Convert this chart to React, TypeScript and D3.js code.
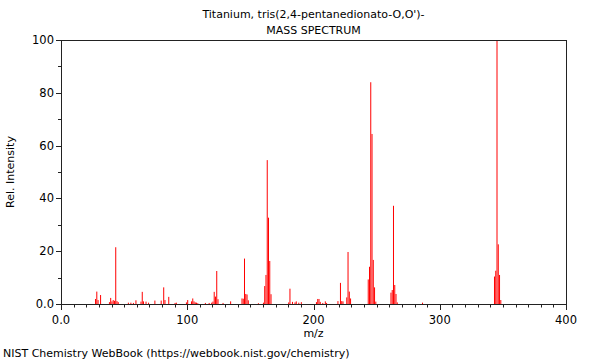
import React from "react";
import * as d3 from "d3";

const titleLines = ["Titanium, tris(2,4-pentanedionato-O,O')-", "MASS SPECTRUM"];
const xLabel = "m/z";
const yLabel = "Rel. Intensity";
const footer = "NIST Chemistry WebBook (https://webbook.nist.gov/chemistry)";

const mzValues = [27,28,29,31,38,39,40,41,42,43,44,45,53,55,57,59,63,64,65,67,69,74,79,81,82,85,90,91,99,100,103,104,105,106,107,108,114,117,119,120,121,122,123,124,128,134,143,144,145,146,147,148,156,160,161,162,163,164,165,166,180,181,183,185,186,188,190,202,203,204,205,207,209,210,219,221,222,223,226,227,228,229,243,244,245,246,247,248,249,261,262,263,264,265,266,286,343,344,345,346,347,348];
const intensities = [1.9,4.7,1.5,3.4,0.7,2.3,1.0,1.5,1.2,21.5,1.1,0.7,0.5,0.5,0.4,1.4,0.9,4.6,1.0,0.9,0.5,1.3,1.3,6.3,1.5,2.7,0.4,0.5,0.6,1.5,1.0,2.1,1.0,0.6,0.5,0.3,0.4,0.4,0.5,0.9,4.6,2.8,12.5,1.8,0.4,1.0,2.1,2.0,17.2,3.8,3.6,1.4,0.3,0.5,6.8,11,54.5,32.7,16.3,3.7,0.6,5.8,0.8,0.6,1.0,0.5,0.7,0.7,1.9,1.9,0.8,0.4,1.0,0.4,1.1,8.0,1.1,1.0,2.5,19.7,4.7,2.1,9.3,14.1,84,64.4,16.7,6.3,0.9,4.3,5.3,37.2,7.2,3.8,0.6,0.5,10.4,12.6,100,22.6,11,1.5];

const xMajorTicks = [0, 100, 200, 300, 400];
const xTickLabels = ["0.0", "100", "200", "300", "400"];
const yMajorTicks = [0, 20, 40, 60, 80, 100];
const yTickLabels = ["0.0", "20", "40", "60", "80", "100"];

export default function App() {
  const W = 600, H = 360;
  const L = 61, R = 566, T = 40, B = 304;
  const x = d3.scaleLinear().domain([0, 400]).range([L, R]);
  const xPeak = d3.scaleLinear().domain([0, 400]).range([L + 0.45, R + 0.45]);
  const y = d3.scaleLinear().domain([0, 100]).range([B, T]);
  const xMinor = d3.range(0, 401, 10);
  const yMinor = d3.range(0, 101, 10);
  const font = "DejaVu Sans, sans-serif";
  return (
    <svg width={W} height={H} style={{ position: "absolute", left: 0, top: 0 }} fontFamily={font}>
      <rect x={0} y={0} width={W} height={H} fill="white" />
      {titleLines.map((t, i) => (
        <text key={t} x={(L + R) / 2} y={18 + i * 16} textAnchor="middle" fontSize={11}>{t}</text>
      ))}
      {mzValues.map((m, i) => (
        <line key={m} x1={xPeak(m)} x2={xPeak(m)} y1={y(0)} y2={y(intensities[i])} stroke="#ff0000" strokeWidth={1} />
      ))}
      <rect x={L + 0.5} y={T + 0.5} width={R - L} height={B - T} fill="none" stroke="#222" strokeWidth={1} />
      {xMinor.map((v) => (
        <line key={"xm" + v} x1={Math.round(x(v)) + 0.5} x2={Math.round(x(v)) + 0.5} y1={B + 0.5} y2={B + (v % 100 === 0 ? 6 : 3.5)} stroke="#222" />
      ))}
      {yMinor.map((v) => (
        <line key={"ym" + v} y1={Math.round(y(v)) + 0.5} y2={Math.round(y(v)) + 0.5} x1={L + 0.5} x2={L - (v % 20 === 0 ? 5 : 3)} stroke="#222" />
      ))}
      {xMajorTicks.map((v, i) => (
        <text key={"xl" + v} x={x(v)} y={B + 20} textAnchor="middle" fontSize={11.5}>{xTickLabels[i]}</text>
      ))}
      {yMajorTicks.map((v, i) => (
        <text key={"yl" + v} x={L - 7} y={y(v) + 4} textAnchor="end" fontSize={11.5}>{yTickLabels[i]}</text>
      ))}
      <text x={(L + R) / 2} y={B + 33} textAnchor="middle" fontSize={11}>{xLabel}</text>
      <text transform={`translate(14, ${(T + B) / 2}) rotate(-90)`} textAnchor="middle" fontSize={11}>{yLabel}</text>
      <text x={3} y={357} fontSize={11}>{footer}</text>
    </svg>
  );
}
